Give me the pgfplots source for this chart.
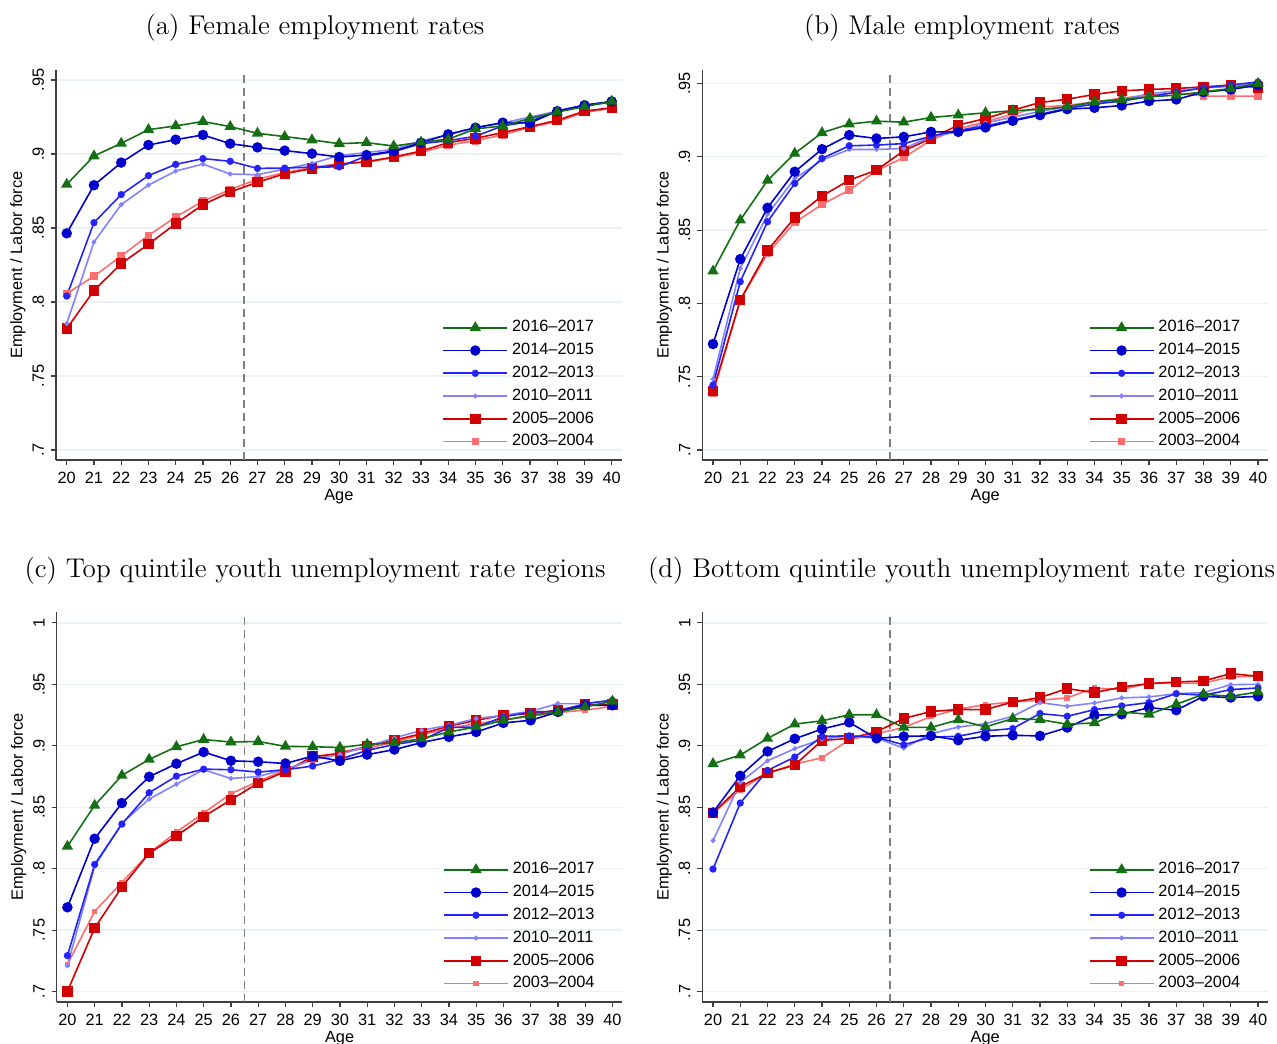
\documentclass[border=0pt]{standalone}
\usepackage{pgfplots}
\usepackage{pgfplotstable}
\usepackage{fontspec}
\pgfplotsset{compat=1.18}
\newfontfamily\hv{Liberation Sans}
\definecolor{cg}{RGB}{20,110,20}
\definecolor{cb1}{RGB}{0,0,205}
\definecolor{cb2}{RGB}{35,35,250}
\definecolor{cb3}{RGB}{130,130,255}
\definecolor{cr1}{RGB}{210,0,0}
\definecolor{cr2}{RGB}{255,110,110}
\definecolor{gridc}{RGB}{234,241,242}

\pgfplotstableread{
age g b14 b12 b10 r05 r03
20 .8795 .8464 .804 .7854 .782 .8057
21 .8987 .8789 .8536 .8405 .8077 .8174
22 .9072 .8942 .8726 .8658 .826 .8311
23 .9165 .9061 .8854 .879 .839 .845
24 .919 .9097 .893 .8885 .853 .8574
25 .922 .9129 .8969 .8932 .8658 .8682
26 .9185 .907 .8951 .8865 .8743 .876
27 .914 .9045 .8903 .886 .8809 .883
28 .9118 .9023 .8905 .8899 .8867 .8874
29 .9095 .9003 .8912 .8937 .8901 .891
30 .907 .898 .8913 .8989 .8931 .8935
31 .9077 .8993 .8987 .901 .8948 .8945
32 .9054 .902 .9016 .9032 .898 .8975
33 .908 .9077 .907 .9088 .902 .901
34 .910 .9133 .909 .913 .9077 .906
35 .917 .9178 .912 .918 .9106 .909
36 .919 .9212 .919 .921 .9145 .913
37 .924 .921 .922 .925 .9185 .918
38 .9284 .929 .929 .929 .9228 .922
39 .932 .933 .933 .933 .929 .928
40 .9356 .9356 .935 .935 .9313 .931
}\tA

\pgfplotstableread{
age g b14 b12 b10 r05 r03
20 .822 .7723 .7443 .7484 .7402 .7386
21 .8568 .8302 .8148 .8239 .8023 .802
22 .8839 .8652 .8557 .8607 .8361 .834
23 .9023 .8898 .8818 .8852 .8586 .8552
24 .9164 .9052 .8989 .8977 .8732 .8675
25 .9223 .9148 .9075 .905 .8841 .8773
26 .9243 .9125 .908 .905 .8909 .8905
27 .9236 .9136 .909 .9057 .9041 .8995
28 .9268 .917 .914 .9136 .9125 .9114
29 .9284 .917 .918 .917 .9216 .919
30 .930 .920 .921 .923 .9261 .924
31 .9314 .9245 .925 .927 .9318 .929
32 .9323 .9284 .929 .931 .937 .934
33 .9341 .9325 .933 .934 .9393 .935
34 .9375 .9334 .936 .937 .9425 .9375
35 .9391 .935 .938 .939 .945 .940
36 .9409 .938 .941 .943 .9459 .942
37 .942 .9391 .944 .945 .9466 .9436
38 .9443 .9441 .947 .947 .9477 .9414
39 .9466 .9459 .949 .948 .9489 .9414
40 .950 .9489 .951 .950 .9473 .9414
}\tB

\pgfplotstableread{
age g b14 b12 b10 r05 r03
20 .8182 .7686 .7293 .7211 .7003 .722
21 .8515 .8244 .8035 .8019 .7518 .7653
22 .8759 .8534 .8363 .8371 .7851 .7889
23 .8889 .8748 .8618 .8566 .8127 .8127
24 .8992 .8854 .8753 .8688 .8266 .8298
25 .9051 .8949 .881 .8805 .8423 .8453
26 .903 .8878 .8805 .8734 .8561 .861
27 .9035 .887 .8786 .875 .8696 .871
28 .8995 .8856 .8805 .881 .8791 .8805
29 .8992 .8916 .8835 .8886 .8913 .8886
30 .8986 .8877 .889 .893 .8936 .895
31 .9012 .8928 .8963 .8996 .8996 .898
32 .9023 .8969 .901 .9064 .9045 .903
33 .9058 .9026 .9045 .9126 .9099 .909
34 .9112 .9072 .9148 .9167 .9159 .914
35 .9153 .9112 .9153 .9221 .9207 .918
36 .9207 .9186 .9234 .9248 .9248 .921
37 .9248 .9207 .9275 .928 .9262 .924
38 .9275 .9275 .928 .9343 .9289 .927
39 .9316 .9329 .9343 .9343 .9335 .929
40 .9362 .9329 .937 .937 .9335 .932
}\tC

\pgfplotstableread{
age g b14 b12 b10 r05 r03
20 .8854 .8458 .7997 .8228 .8453 .8453
21 .8924 .8756 .8534 .8702 .8667 .8642
22 .906 .8954 .88 .8878 .8778 .8778
23 .9176 .9057 .8908 .8976 .8843 .8851
24 .9203 .9136 .9076 .9054 .9043 .8902
25 .9252 .919 .9081 .9081 .906 .9049
26 .9252 .906 .9068 .9062 .9114 .9098
27 .9149 .9076 .9008 .8981 .9222 .9149
28 .9149 .9081 .907 .9098 .9279 .9238
29 .9211 .9045 .9077 .9152 .9295 .9298
30 .9153 .9077 .9121 .918 .9294 .9335
31 .9221 .9085 .914 .924 .9356 .9356
32 .9213 .908 .9262 .9351 .9392 .937
33 .9175 .9148 .924 .9321 .9465 .939
34 .9186 .9248 .9294 .9348 .9432 .947
35 .9275 .9256 .9324 .9389 .9478 .9457
36 .9256 .931 .9351 .9397 .9505 .951
37 .9337 .9289 .9424 .9424 .9519 .951
38 .9419 .9402 .9411 .9432 .9527 .951
39 .9402 .9392 .9457 .9497 .9587 .956
40 .9438 .9402 .947 .95 .9565 .9565
}\tD

\pgfplotsset{
  empl/.style={
    scale only axis, width=282.85bp, height=195bp,
    anchor=south west,
    xmin=19.607, xmax=40.367,
    axis x line*=bottom, axis y line*=left,
    axis line style={-, black!75, line width=0.6pt},
    tick align=outside, major tick length=2.5bp,
    tick style={black!75, line width=0.6pt},
    xtick={20,21,22,23,24,25,26,27,28,29,30,31,32,33,34,35,36,37,38,39,40},
    xticklabels={20,21,22,23,24,25,26,27,28,29,30,31,32,33,34,35,36,37,38,39,40},
    ticklabel style={font=\hv\fontsize{8.2}{9}\selectfont},
    yticklabel style={rotate=90, anchor=south},
    ymajorgrids, major grid style={gridc, line width=0.7pt},
    xlabel={Age}, ylabel={Employment / Labor force},
    label style={font=\hv\fontsize{8.2}{9}\selectfont},
    xlabel style={at={(rel axis cs:0.5,0)}, anchor=center, yshift=-18.5bp},
    ylabel style={at={(rel axis cs:0,0.5)}, anchor=center, yshift=19bp},
    every axis plot/.append style={line width=0.8pt},
    legend style={draw=none, fill=none, font=\hv\fontsize{8.2}{9}\selectfont,
      at={(rel axis cs:0.672,0.379)}, anchor=north west, row sep=0.2bp},
    legend cell align=left, reverse legend,
    legend image code/.code={\draw[line width=0.8pt,mark repeat=2,mark phase=2,#1] plot coordinates {(0bp,0bp) (16bp,0bp) (32bp,0bp)};},
  },
  yA/.style={ymin=0.6932, ymax=0.9568, ytick={0.7,0.75,0.8,0.85,0.9,0.95}, yticklabels={.7,.75,.8,.85,.9,.95}},
  yB/.style={ymin=0.6932, ymax=0.9592, ytick={0.7,0.75,0.8,0.85,0.9,0.95}, yticklabels={.7,.75,.8,.85,.9,.95}},
  yC/.style={ymin=0.6916, ymax=1.0088, ytick={0.7,0.75,0.8,0.85,0.9,0.95,1}, yticklabels={.7,.75,.8,.85,.9,.95,1}},
  pr3/.style={cr2, mark=square*, mark size=#1, mark options={solid}},
  pr5/.style={cr1, mark=square*, mark size=2.2bp},
  pb10/.style={cb3, mark=*, mark size=0.8bp},
  pb12/.style={cb2, mark=*, mark size=1.4bp},
  pb14/.style={cb1, mark=*, mark size=2.2bp},
  pg/.style={cg, mark=triangle*, mark size=2.5bp},
  vline/.style={gray, dashed, line width=0.7pt, dash pattern=on 4bp off 2.5bp, forget plot},
}

\newcommand{\sixplots}[4]{%
  \addplot[vline] coordinates {(26.5,#2) (26.5,#3)};
  \addplot[pr3=#1] table[x=age,y=r03] {#4};
  \addplot[pr5] table[x=age,y=r05] {#4};
  \addplot[pb10] table[x=age,y=b10] {#4};
  \addplot[pb12] table[x=age,y=b12] {#4};
  \addplot[pb14] table[x=age,y=b14] {#4};
  \addplot[pg] table[x=age,y=g] {#4};
  \legend{2003–2004,2005–2006,2010–2011,2012–2013,2014–2015,2016–2017}
}

\begin{document}
\begin{tikzpicture}
\useasboundingbox (0,0) rectangle (638.5bp,522bp);
\node[anchor=base, font=\fontsize{13.6}{16}\selectfont] at (157.5bp,504.5bp) {(a) Female employment rates};
\node[anchor=base, font=\fontsize{13.6}{16}\selectfont] at (481bp,504.5bp) {(b) Male employment rates};
\node[anchor=base, font=\fontsize{13.6}{16}\selectfont] at (157.5bp,233bp) {(c) Top quintile youth unemployment rate regions};
\node[anchor=base, font=\fontsize{13.6}{16}\selectfont] at (480.8bp,233bp) {(d) Bottom quintile youth unemployment rate regions};

\begin{axis}[empl, yA, at={(28bp,292bp)}]
\sixplots{1.5bp}{0.6932}{0.9568}{\tA}
\end{axis}

\begin{axis}[empl, yB, at={(351.15bp,292bp)}]
\sixplots{1.5bp}{0.6932}{0.9592}{\tB}
\end{axis}

\begin{axis}[empl, yC, at={(28.35bp,21bp)}]
\sixplots{1.0bp}{0.6916}{1.0088}{\tC}
\end{axis}

\begin{axis}[empl, yC, at={(351.15bp,21bp)}]
\sixplots{1.0bp}{0.6916}{1.0088}{\tD}
\end{axis}
\end{tikzpicture}
\end{document}
